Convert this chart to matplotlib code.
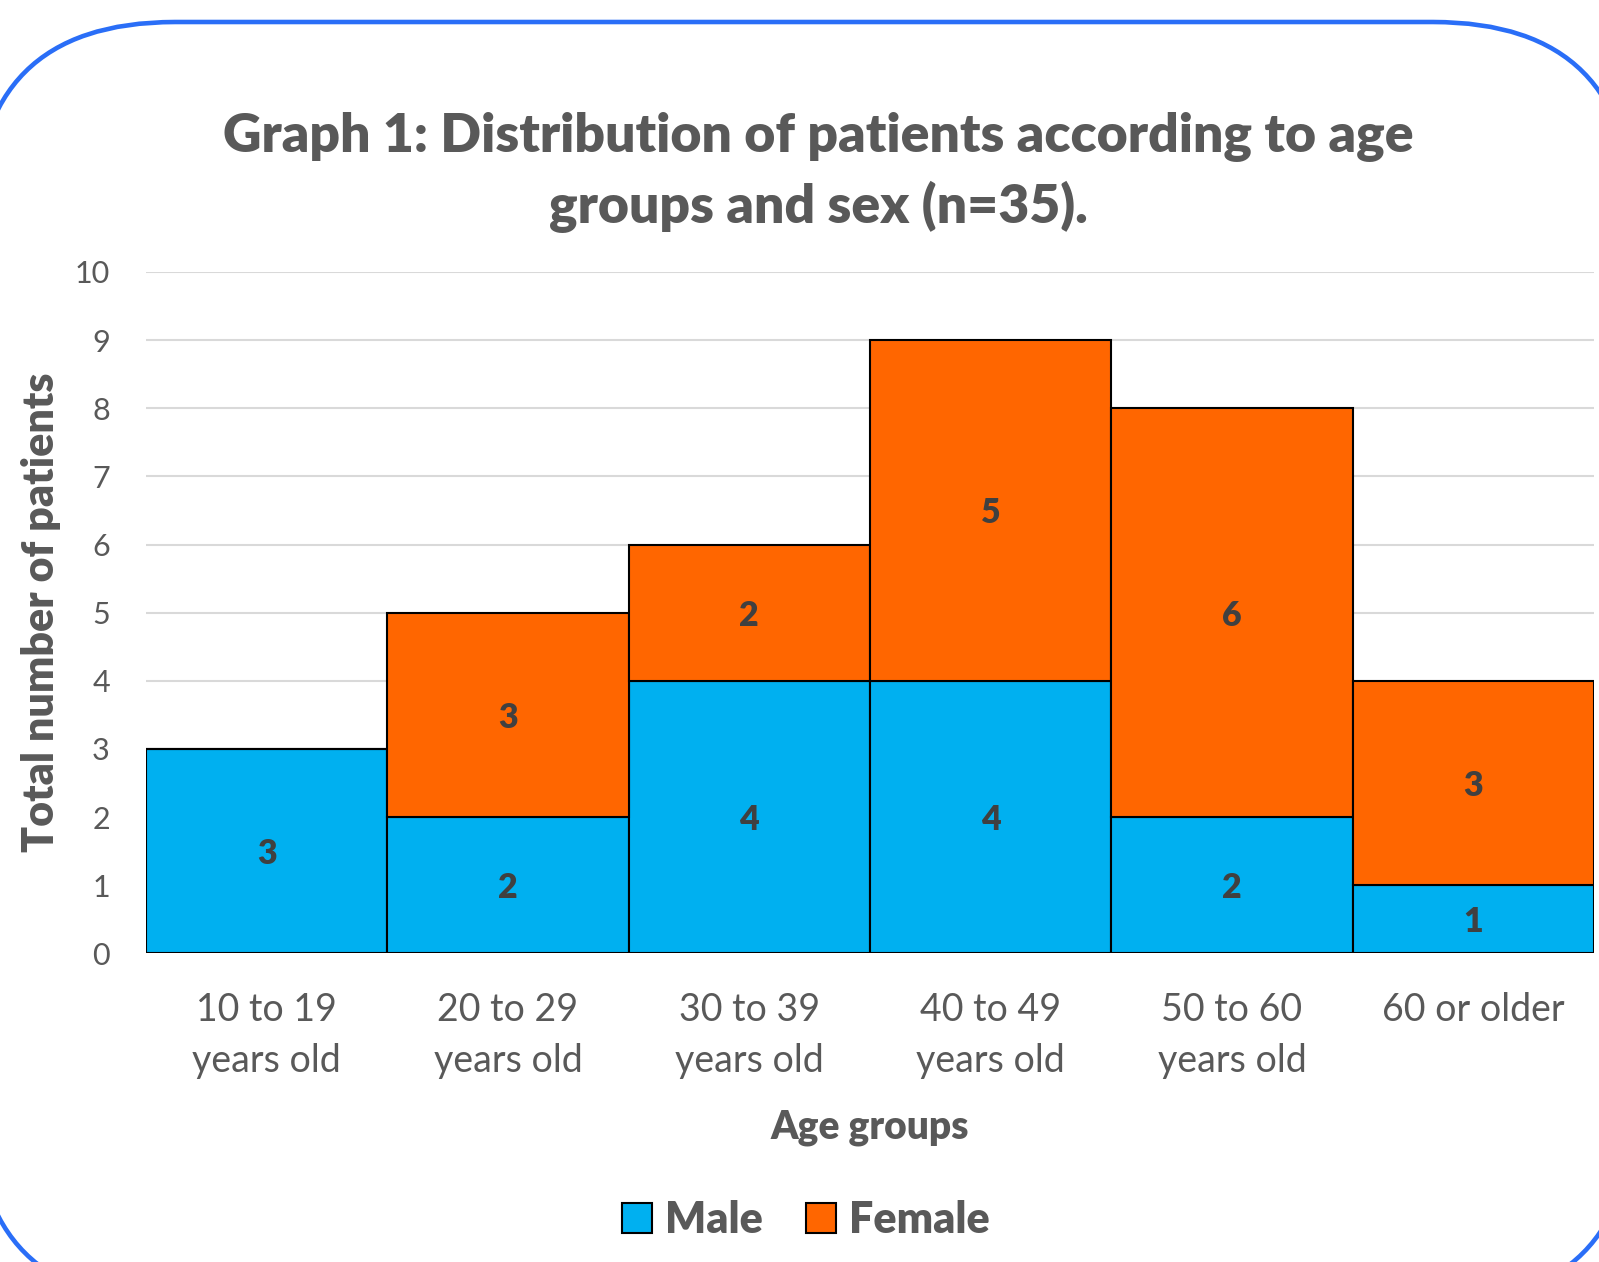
import matplotlib
matplotlib.use("Agg")
import matplotlib.pyplot as plt
from matplotlib.patches import FancyBboxPatch, Patch
import numpy as np

plt.rcParams['font.family'] = ['Lato', 'DejaVu Sans']

groups = ["10 to 19\nyears old", "20 to 29\nyears old", "30 to 39\nyears old",
          "40 to 49\nyears old", "50 to 60\nyears old", "60 or older"]
male = [3, 2, 4, 4, 2, 1]
female = [0, 3, 2, 5, 6, 3]

c_male = "#00B0F0"
c_female = "#FF6600"
grey = "#595959"
bw = "heavy"

fig = plt.figure(figsize=(15.99, 12.62), dpi=100)

# rounded frame drawn in pixel coordinates
bg = fig.add_axes([0, 0, 1, 1], zorder=-1)
bg.set_xlim(0, 1599)
bg.set_ylim(1262, 0)
bg.axis("off")
bg.add_patch(FancyBboxPatch((-25, 22), 1658, 1281, boxstyle="round,pad=0,rounding_size=200",
                            fc="white", ec="#2A6EF7", lw=3.3))

ax = fig.add_axes([0.0913, 0.2445, 0.9055, 0.54])
ax.set_facecolor("none")
x = np.arange(len(groups))
ax.bar(x, male, width=1.0, color=c_male, edgecolor="black", linewidth=1.5, zorder=3, label="Male")
ax.bar(x, female, width=1.0, bottom=male, color=c_female, edgecolor="black", linewidth=1.5,
       zorder=3, label="Female")

for i in range(len(groups)):
    if male[i] > 0:
        ax.text(x[i], male[i] / 2, str(male[i]), ha="center", va="center_baseline", fontsize=24.5,
                fontweight=bw, color="#404040", zorder=4)
    if female[i] > 0:
        ax.text(x[i], male[i] + female[i] / 2, str(female[i]), ha="center", va="center_baseline",
                fontsize=24.5, fontweight=bw, color="#404040", zorder=4)

ax.set_xlim(-0.5, len(groups) - 0.5)
ax.set_ylim(0, 10)
ax.set_yticks(range(0, 11))
ax.set_xticks(x)
ax.set_xticklabels(groups, fontsize=27, color=grey, linespacing=1.5)
ax.tick_params(axis="y", length=0, pad=26, labelsize=22, labelcolor=grey)
ax.tick_params(axis="x", length=0, pad=28)
ax.grid(axis="y", color="#D9D9D9", linewidth=1.5, zorder=0)
for s in ax.spines.values():
    s.set_visible(False)

ax.set_xlabel("Age groups", fontsize=28, fontweight=bw, color=grey, labelpad=22)
ax.set_ylabel("Total number of patients", fontsize=31, fontweight=bw, color=grey, labelpad=10)

fig.text(0.512, 0.863, "Graph 1: Distribution of patients according to age\ngroups and sex (n=35).",
         ha="center", va="center", fontsize=38.5, fontweight=bw, color=grey, linespacing=1.45)

handles = [Patch(facecolor=c_male, edgecolor="black", linewidth=1.5, label="Male"),
           Patch(facecolor=c_female, edgecolor="black", linewidth=1.5, label="Female")]
leg = fig.legend(handles=handles, loc="center", bbox_to_anchor=(0.504, 0.033), ncol=2, frameon=False,
                 prop={"size": 31, "weight": bw}, handlelength=0.7, handleheight=0.7,
                 handletextpad=0.3, columnspacing=1.0)
for t in leg.get_texts():
    t.set_color(grey)

fig.savefig("out.png", dpi=100)
